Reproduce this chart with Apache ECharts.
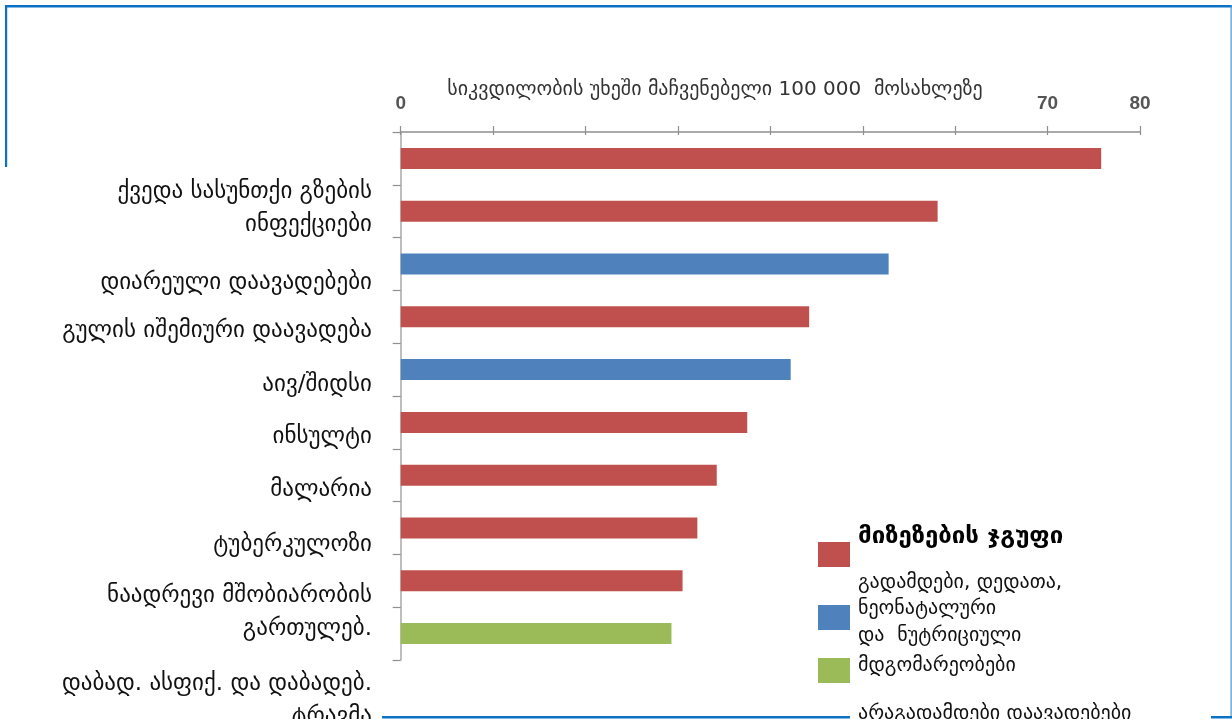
<!DOCTYPE html>
<html>
<head>
<meta charset="utf-8">
<script src="https://cdn.jsdelivr.net/npm/echarts@6.0.0/dist/echarts.min.js"></script>
<style>
  html, body { margin: 0; padding: 0; background: #ffffff; }
  #chart { width: 1232px; height: 723px; }
</style>
</head>
<body>
<div id="chart"></div>
<script>
// Crude death rate per 100 000 population, leading causes (ranked)
const ranks = ['1', '2', '3', '4', '5', '6', '7', '8', '9', '10'];
const deathRates = [75.8, 58.1, 52.8, 44.2, 42.2, 37.5, 34.2, 32.1, 30.5, 29.3];
const causeGroup = ['comm', 'comm', 'ncd', 'comm', 'ncd', 'comm', 'comm', 'comm', 'comm', 'inj'];

const causeLabels = [
  'ქვედა სასუნთქი გზების\nინფექციები',
  'დიარეული დაავადებები',
  'გულის იშემიური დაავადება',
  'აივ/შიდსი',
  'ინსულტი',
  'მალარია',
  'ტუბერკულოზი',
  'ნაადრევი მშობიარობის\nგართულებ.',
  'დაბად. ასფიქ. და დაბადებ.\nტრავმა'
];

const axisTitle = 'სიკვდილობის უხეში მაჩვენებელი 100 000  მოსახლეზე';
const xShownTicks = [0, 70, 80];

const legendTitle = 'მიზეზების ჯგუფი';
const legendLines = ['გადამდები, დედათა,', 'ნეონატალური', 'და  ნუტრიციული', 'მდგომარეობები', 'არაგადამდები დაავადებები'];

// styling
const groupColors = { comm: '#C0504D', ncd: '#4F81BD', inj: '#9BBB59' };
const GEO_FONT = '"DejaVu Sans", "Noto Sans", sans-serif';
const AXIS_GRAY = '#8f8f8f';
const FRAME_BLUE = '#0E72C4';

// left-hand cause labels: vertical centres of each label block
const labelCenters = [209, 283, 331, 385, 437, 490, 545, 613, 701];

const chart = echarts.init(document.getElementById('chart'), null, { renderer: 'canvas' });

const graphics = [];

// blue slide frame
graphics.push(
  { type: 'rect', shape: { x: 5, y: 5, width: 1227, height: 2.5 }, style: { fill: FRAME_BLUE }, z: 50 },
  { type: 'rect', shape: { x: 5, y: 5, width: 2.2, height: 162 }, style: { fill: FRAME_BLUE }, z: 50 },
  { type: 'rect', shape: { x: 1230.5, y: 5, width: 1.2, height: 713 }, style: { fill: '#4a92d4' }, z: 50 },
  // white strip where the page is cut off
  { type: 'rect', shape: { x: 0, y: 719, width: 1232, height: 4 }, style: { fill: '#ffffff' }, z: 60 },
  { type: 'rect', shape: { x: 382, y: 716, width: 468, height: 2.5 }, style: { fill: FRAME_BLUE }, z: 61 },
  { type: 'rect', shape: { x: 1211, y: 716, width: 21, height: 2.5 }, style: { fill: FRAME_BLUE }, z: 61 }
);

// axis title
graphics.push({
  type: 'text', x: 715, y: 90, z: 20,
  style: { text: axisTitle, font: '20px ' + GEO_FONT, fill: '#333333', align: 'center', verticalAlign: 'middle' }
});

// cause labels
causeLabels.forEach(function (t, i) {
  graphics.push({
    type: 'text', x: 372, y: labelCenters[i], z: 20,
    style: { text: t, font: '23px ' + GEO_FONT, fill: '#111111', align: 'right', verticalAlign: 'middle', lineHeight: 33 }
  });
});

// legend swatches
[['comm', 542], ['ncd', 605], ['inj', 658]].forEach(function (s) {
  graphics.push({ type: 'rect', shape: { x: 818, y: s[1], width: 32, height: 25 }, style: { fill: groupColors[s[0]] }, z: 20 });
});
graphics.push({
  type: 'text', x: 858, y: 537, z: 20,
  style: { text: legendTitle, font: 'bold 24px ' + GEO_FONT, fill: '#000000', align: 'left', verticalAlign: 'middle' }
});
[583, 609, 636, 666, 714].forEach(function (y, i) {
  graphics.push({
    type: 'text', x: 858, y: y, z: 20,
    style: { text: legendLines[i], font: '20px ' + GEO_FONT, fill: '#111111', align: 'left', verticalAlign: 'middle' }
  });
});

const option = {
  backgroundColor: '#ffffff',
  animation: false,
  grid: { left: 400.7, right: 92, top: 132, bottom: 63, containLabel: false },
  xAxis: [
    {
      type: 'value', position: 'top', min: 0, max: 80, interval: 10,
      axisLine: { show: true, lineStyle: { color: AXIS_GRAY, width: 1.5 } },
      axisTick: { show: true, length: 6, lineStyle: { color: AXIS_GRAY, width: 1.2 } },
      splitLine: { show: false },
      axisLabel: {
        margin: 19, color: '#555555', fontSize: 19, fontWeight: 'bold',
        fontFamily: '"Liberation Sans", Arial, sans-serif',
        formatter: function (v) { return xShownTicks.indexOf(v) >= 0 ? String(v) : ''; }
      }
    },
    {
      type: 'value', position: 'top', min: 0, max: 80, interval: 10,
      axisLine: { show: false },
      axisTick: { show: true, inside: true, length: 3, lineStyle: { color: AXIS_GRAY, width: 1.2 } },
      axisLabel: { show: false },
      splitLine: { show: false }
    }
  ],
  yAxis: {
    type: 'category', data: ranks, inverse: true,
    axisLine: { show: true, lineStyle: { color: '#a8a8a8', width: 1.5 } },
    axisTick: { show: true, length: 8, lineStyle: { color: AXIS_GRAY, width: 1.2 } },
    axisLabel: { show: false }
  },
  series: [{
    type: 'bar',
    xAxisIndex: 0,
    barWidth: 21,
    data: deathRates.map(function (v, i) {
      return { value: v, itemStyle: { color: groupColors[causeGroup[i]] } };
    })
  }],
  graphic: graphics
};

chart.setOption(option);
</script>
</body>
</html>
